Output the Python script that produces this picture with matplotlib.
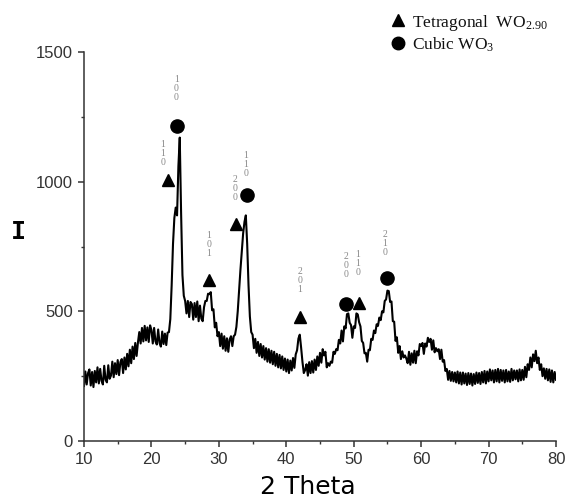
import numpy as np
import matplotlib
matplotlib.use("Agg")
import matplotlib.pyplot as plt
from matplotlib.lines import Line2D

plt.rcParams['mathtext.fontset'] = 'custom'
plt.rcParams['mathtext.rm'] = 'Liberation Serif'

# ---- data (2-theta grid 10..80 step 0.2) ----
theta_start, theta_stop = 10.0, 80.0
intensity = [
    212,268,218,262,276,214,266,208,270,226,
    284,222,278,232,218,290,236,226,292,240,
    252,306,246,300,258,312,254,304,316,262,
    322,276,336,288,352,300,364,316,378,328,
    380,420,376,436,384,444,388,438,382,446,
    428,376,436,384,372,430,378,364,422,374,
    414,370,418,420,470,600,760,860,900,870,
    1060,1170,880,640,560,540,492,540,478,536,
    528,468,532,478,538,462,522,472,462,516,
    540,540,568,566,574,504,508,438,456,404,
    420,366,414,356,404,348,396,344,392,404,
    366,404,410,440,500,580,660,730,800,845,
    870,760,600,480,420,410,358,394,340,382,
    328,374,322,366,314,358,306,354,302,348,
    296,344,290,336,284,332,280,326,274,318,
    268,314,262,310,272,320,282,334,350,395,
    410,360,305,262,274,296,252,304,262,308,
    264,314,274,326,290,340,302,354,330,344,
    284,300,290,306,302,344,336,354,350,390,
    376,426,384,442,434,489,492,456,447,398,
    442,436,492,488,458,442,386,378,338,340,
    306,352,350,394,390,426,416,450,444,476,
    466,500,496,540,546,580,578,536,538,462,
    460,386,400,340,366,316,346,322,330,318,
    300,344,294,338,302,348,300,346,330,374,
    366,378,336,376,364,398,382,394,352,388,
    342,358,346,354,316,352,306,312,270,278,
    236,270,232,266,230,264,226,268,222,264,
    218,264,222,260,216,262,220,260,214,258,
    220,264,224,262,220,266,226,270,222,268,
    230,276,234,272,226,274,230,278,226,274,
    232,272,226,274,230,268,228,278,234,272,
    238,272,230,276,234,274,236,286,246,296,
    274,322,284,334,308,348,300,322,274,296,
    250,280,240,278,234,276,228,272,226,266,
    236,
]

# tetragonal WO2.90 markers
tet_x = [22.5, 28.5, 32.5, 42.1, 50.8]
tet_y = [1005, 621, 837, 478, 532]
tet_hkl = ['110', '101', '200', '201', '110']
tet_lbl_x = [21.7, 28.5, 32.4, 42.0, 50.6]
tet_lbl_y = [1110, 756, 974, 617, 683]

# cubic WO3 markers
cub_x = [23.8, 34.2, 48.9, 54.9]
cub_y = [1216, 949, 528, 630]
cub_hkl = ['100', '110', '200', '210']
cub_lbl_x = [23.7, 34.0, 48.8, 54.6]
cub_lbl_y = [1361, 1068, 675, 760]

x_ticks = [10, 20, 30, 40, 50, 60, 70, 80]
y_ticks = [0, 500, 1000, 1500]

two_theta = np.linspace(theta_start, theta_stop, len(intensity))

W, H = 567, 499
fig = plt.figure(figsize=(W / 100, H / 100), dpi=100)
ax = fig.add_axes([84 / W, 1 - 441 / H, (556 - 84) / W, (441 - 52) / H])

ax.plot(two_theta, intensity, color='black', lw=1.5)

ax.plot(tet_x, tet_y, linestyle='none', marker='^', ms=9, color='black')
ax.plot(cub_x, cub_y, linestyle='none', marker='o', ms=9.5, color='black')

for xs, ys, labs in [(tet_lbl_x, tet_lbl_y, tet_hkl), (cub_lbl_x, cub_lbl_y, cub_hkl)]:
    for xx, yy, lab in zip(xs, ys, labs):
        ax.text(xx, yy, "\n".join(lab), ha='center', va='center', fontsize=7,
                family='Liberation Serif', color='#888888', linespacing=1.0)

ax.set_xlim(10, 80)
ax.set_ylim(0, 1500)
ax.set_xticks(x_ticks)
ax.set_yticks(y_ticks)
ax.set_xticks(np.arange(15, 80, 10), minor=True)
ax.set_yticks([250, 750, 1250], minor=True)
for s in ['top', 'right']:
    ax.spines[s].set_visible(False)
for s in ['left', 'bottom']:
    ax.spines[s].set_color('#333333')
    ax.spines[s].set_linewidth(1.1)
ax.tick_params(which='major', direction='out', length=4.5, width=1.1, color='#333333',
               labelsize=12, labelcolor='#333333', pad=3.5)
ax.tick_params(which='minor', direction='out', length=2.5, width=1.0, color='#333333')
for lbl in ax.get_xticklabels() + ax.get_yticklabels():
    lbl.set_family('Liberation Sans')

fig.text(308 / W, 1 - 487 / H, '2 Theta', ha='center', va='center', fontsize=18,
         family='DejaVu Sans', color='black')
fig.text(18 / W, 1 - 232 / H, 'I', ha='center', va='center', fontsize=18,
         family='DejaVu Sans Mono', fontweight='bold', color='black')

# legend (manual)
fig.add_artist(Line2D([398 / W], [1 - 20 / H], marker='^', ms=8, color='black',
                      linestyle='none', transform=fig.transFigure))
fig.add_artist(Line2D([398 / W], [1 - 43 / H], marker='o', ms=9, color='black',
                      linestyle='none', transform=fig.transFigure))
fig.text(412 / W, 1 - 27 / H, 'Tetragonal  WO$\\mathregular{_{2.90}}$', ha='left',
         va='baseline', fontsize=12.5, family='Liberation Serif', color='#111111')
fig.text(412 / W, 1 - 50 / H, 'Cubic WO$\\mathregular{_3}$', ha='left',
         va='baseline', fontsize=12.5, family='Liberation Serif', color='#111111')

fig.savefig('out.png', dpi=100)
